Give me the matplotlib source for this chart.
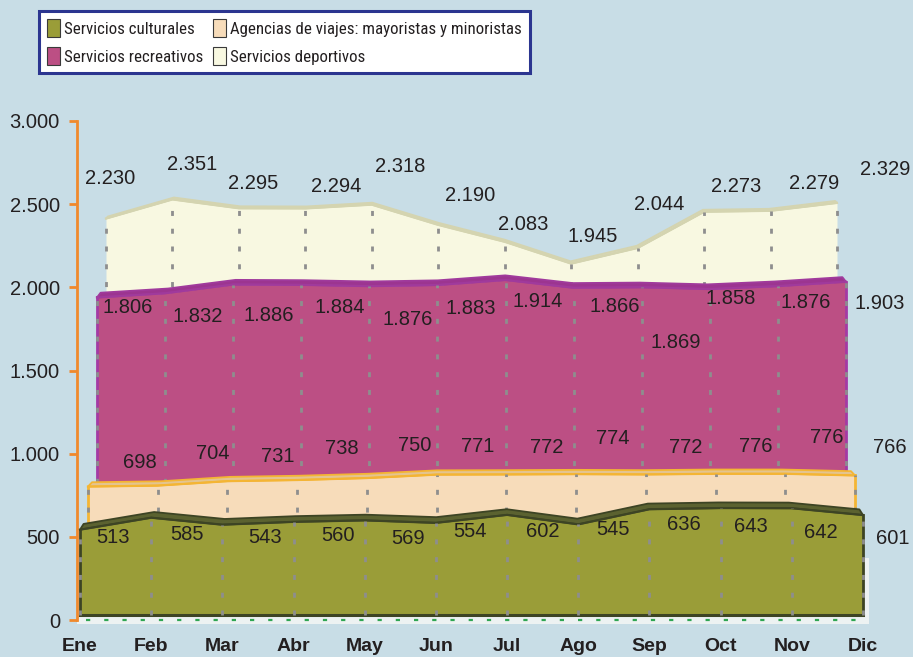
import numpy as np
import matplotlib
matplotlib.use("Agg")
import matplotlib.pyplot as plt
from matplotlib.patches import Patch, Polygon
from matplotlib import font_manager as fm

# ---------------- data ----------------
meses = ["Ene", "Feb", "Mar", "Abr", "May", "Jun", "Jul", "Ago", "Sep", "Oct", "Nov", "Dic"]
culturales = [513, 585, 543, 560, 569, 554, 602, 545, 636, 643, 642, 601]
agencias = [698, 704, 731, 738, 750, 771, 772, 774, 772, 776, 776, 766]
recreativos = [1806, 1832, 1886, 1884, 1876, 1883, 1914, 1866, 1869, 1858, 1876, 1903]
deportivos = [2230, 2351, 2295, 2294, 2318, 2190, 2083, 1945, 2044, 2273, 2279, 2329]
nombres = ["Servicios culturales", "Agencias de viajes: mayoristas y minoristas",
           "Servicios recreativos", "Servicios deportivos"]
y_ticks = [0, 500, 1000, 1500, 2000, 2500, 3000]
y_tick_labels = ["0", "500", "1.000", "1.500", "2.000", "2.500", "3.000"]

# ---------------- style ----------------
BG = "#c8dde6"
TXT = "#231f20"
ORANGE = "#f0892c"
GRAY = "#8e8e8e"
FONT = ["Liberation Sans", "DejaVu Sans"]

avail = {f.name for f in fm.fontManager.ttflist}
narrow = next((n for n in ["Liberation Sans Narrow", "Nimbus Sans Narrow", "Arial Narrow",
                           "Roboto Condensed", "Open Sans Condensed"] if n in avail), None)
if narrow:
    LEG = dict(family=[narrow, "DejaVu Sans"], size=12.2, hl=0.76, hh=1.24, ls=0.58,
               tp=0.24, cs=0.55, bp=0.5)
else:
    LEG = dict(family=FONT, size=10.5, hl=0.9, hh=1.44, ls=0.69, tp=0.27, cs=1.0, bp=0.6)

# 3-D depth look: horizontal shrink, base lift and vertical scale per depth level
DEPTH_XS = [1.0, 0.9796, 0.9566, 0.9336]
DEPTH_BASE = [30, 114, 180, 295]
DEPTH_YS = [1.0, 0.986, 0.974, 0.95]
CX = 5.5


def depth_params(d):
    lv = np.arange(4)

    def f(vals):
        if d <= 3:
            return float(np.interp(d, lv, vals))
        return vals[3] + (d - 3) * (vals[3] - vals[2])

    return f(DEPTH_XS), f(DEPTH_BASE), f(DEPTH_YS)


def project(values, d):
    s, b, ys = depth_params(d)
    idx = np.arange(len(values))
    return CX + s * (idx - CX), b + ys * np.asarray(values, float), b


# label offsets (pixels) from each point, as placed in the original
off_cult = ([33, 36, 43, 44, 43, 34, 36, 35, 34, 30, 29, 30],
            [-8, -17, -13, -14, -18, -9, -17, -5, -15, -18, -24, -23])
off_agen = ([52, 55, 50, 45, 48, 41, 40, 37, 40, 40, 41, 35],
            [24, 32, 25, 32, 33, 28, 27, 36, 27, 27, 36, 28])
off_recr = ([31, 33, 36, 38, 38, 33, 32, 41, 34, 21, 28, 34],
            [-10, -23, -31, -23, -33, -24, -22, -19, -55, -9, -16, -22])
off_depo = ([4, 20, 14, 31, 28, 32, 18, 22, 22, 32, 44, 48],
            [40, 35, 25, 22, 38, 29, 17, 27, 43, 25, 27, 33])

layers = [
    dict(vals=deportivos, depth=3, fill="#f8f8e1", band="#dadab9", edge="#d4d4b0",
         side=None, band_d=0.2, off=off_depo),
    dict(vals=recreativos, depth=2, fill="#bc4f84", band="#9c3590", edge="#a03a9c",
         side="#a43aa4", band_d=0.4, off=off_recr),
    dict(vals=agencias, depth=1, fill="#f7dcba", band="#e4c48f", edge="#f4b534",
         side="#f4b534", band_d=0.45, off=off_agen),
    dict(vals=culturales, depth=0, fill="#9a9d38", band="#5b6230", edge="#3d4424",
         side="#3d4424", band_d=0.45, off=off_cult),
]

fig = plt.figure(figsize=(9.13, 6.57), dpi=100, facecolor=BG)
ax = fig.add_axes([77 / 913, 37 / 657, (913 - 77) / 913, 499 / 657])
ax.set_facecolor("none")
ax.set_xlim((77 - 80) / 71.18, (913 - 80) / 71.18)
ax.set_ylim(0, 3000)

# floor of the 3-D chart
ax.fill_between([-0.04, 11.08], -22, 30, color="#edf2f2", lw=0, zorder=1, clip_on=False)
ax.fill_between([11.0, 11.08], 30, 373, color="#edf2f2", lw=0, zorder=1, clip_on=False)
ax.plot([0.08, 11.0], [-3, -3], color="#2fa552", lw=1.6, ls=(0, (1.9, 6.3)),
        zorder=1.5, clip_on=False)

for L in layers:
    d = L["depth"]
    z0 = 2 + 2 * (3 - d)
    xs, tops, base = project(L["vals"], d)
    xb, tb, _ = project(L["vals"], d + L["band_d"])
    ax.fill_between(xs, base, tops, color=L["fill"], lw=0, zorder=z0)
    poly = np.column_stack([np.r_[xs, xb[::-1]], np.r_[tops, tb[::-1]]])
    ax.add_patch(Polygon(poly, closed=True, fc=L["band"], ec=L["edge"], lw=1.3,
                         joinstyle="round", zorder=z0 + 0.2))
    ax.plot(xs, tops, color=L["edge"], lw=1.6, zorder=z0 + 0.3, solid_joinstyle="round")
    if L["side"]:
        for j in (0, -1):
            ax.plot([xs[j], xs[j]], [base, tops[j]], color=L["side"], lw=2.0, zorder=z0 + 0.4)
    if d == 0:
        ax.plot([xs[0], xs[-1]], [base, base], color=L["edge"], lw=2.2, zorder=z0 + 0.4)
    for i in range(len(xs)):
        ax.plot([xs[i], xs[i]], [base, tops[i]], color=GRAY, lw=2.0,
                ls=(0, (1.8, 4.6)), dash_capstyle="butt", zorder=z0 + 0.6)
    dxs, dys = L["off"]
    for i, v in enumerate(L["vals"]):
        ax.annotate(f"{v:,}".replace(",", "."), (xs[i], tops[i]),
                    xytext=(dxs[i], dys[i]), textcoords="offset pixels",
                    ha="center", va="center", fontsize=14.5, color=TXT,
                    family=FONT, zorder=30, annotation_clip=False)

# axes styling
for sp in ("top", "right", "bottom"):
    ax.spines[sp].set_visible(False)
ax.spines["left"].set_color(ORANGE)
ax.spines["left"].set_linewidth(2.0)
ax.spines["left"].set_bounds(0, 3000)
ax.set_yticks(y_ticks)
ax.set_yticklabels(y_tick_labels, family=FONT, fontsize=14.5, color=TXT)
ax.tick_params(axis="y", direction="out", length=5.8, width=2.0, color=ORANGE, pad=6.5)
ax.set_xticks(range(len(meses)))
ax.set_xticklabels(meses, family=FONT, fontsize=14, fontweight="bold", color=TXT)
ax.tick_params(axis="x", length=0, pad=13)

# legend (column-wise: culturales, recreativos | agencias, deportivos)
fill_of = {id(L["vals"]): L["fill"] for L in layers}
ser = [culturales, recreativos, agencias, deportivos]
labs = [nombres[0], nombres[2], nombres[1], nombres[3]]
handles = [Patch(fc=fill_of[id(s)], ec="#3a3a3a", lw=0.8) for s in ser]
leg = fig.legend(handles, labs, ncol=2, loc="upper left",
                 bbox_to_anchor=(39 / 913, 1 - 11 / 657),
                 fancybox=False, framealpha=1, facecolor="white",
                 edgecolor="#2b3590", handlelength=LEG["hl"], handleheight=LEG["hh"],
                 handletextpad=LEG["tp"], labelspacing=LEG["ls"], borderpad=LEG["bp"],
                 columnspacing=LEG["cs"], borderaxespad=0,
                 prop=dict(family=LEG["family"], size=LEG["size"]))
leg.get_frame().set_linewidth(2.2)
for t in leg.get_texts():
    t.set_color(TXT)

fig.savefig("out.png", dpi=100, facecolor=BG)
